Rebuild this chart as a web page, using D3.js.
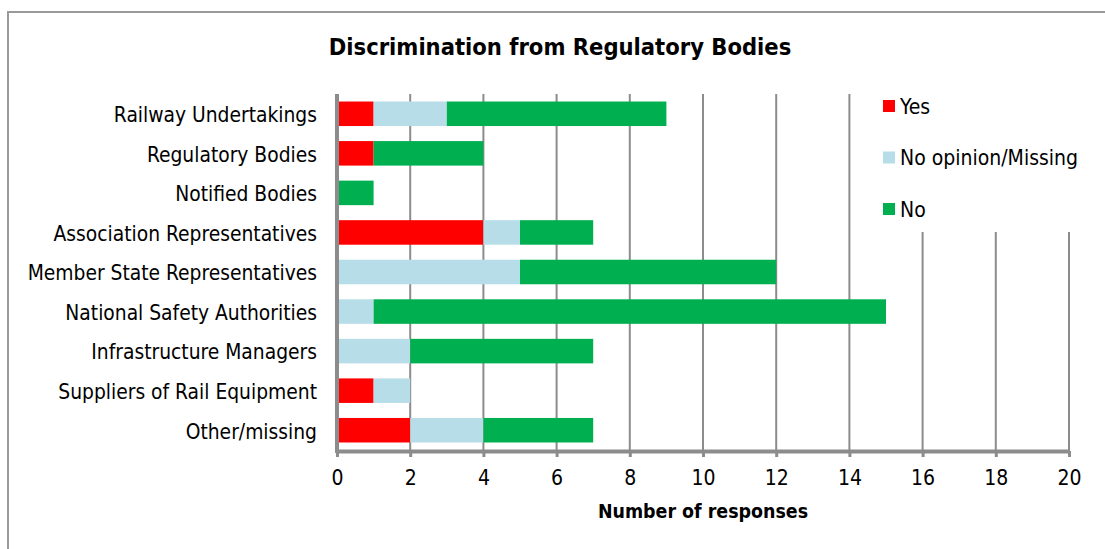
<!DOCTYPE html>
<html>
<head>
<meta charset="utf-8">
<script src="https://cdn.jsdelivr.net/npm/d3@7"></script>
<style>
  body { margin: 0; background: #fff; }
  svg text { font-family: "DejaVu Sans Condensed", "DejaVu Sans", sans-serif; fill: #000; }
</style>
</head>
<body>
<div id="chart"></div>
<script>
// chart data
const categories = [
  "Railway Undertakings",
  "Regulatory Bodies",
  "Notified Bodies",
  "Association Representatives",
  "Member State Representatives",
  "National Safety Authorities",
  "Infrastructure Managers",
  "Suppliers of Rail Equipment",
  "Other/missing"
];
const seriesNames = ["Yes", "No opinion/Missing", "No"];
const yesValues = [1, 1, 0, 4, 0, 0, 0, 1, 2];
const noOpinionValues = [2, 0, 0, 1, 5, 1, 2, 1, 2];
const noValues = [6, 3, 1, 2, 7, 14, 5, 0, 3];
const xTicks = [0, 2, 4, 6, 8, 10, 12, 14, 16, 18, 20];
const colors = ["#FF0000", "#B7DDE8", "#00B050"];

const width = 1105, height = 549;
const plotLeft = 337, plotRight = 1069, plotTop = 94, plotBottom = 451;

const svg = d3.select("#chart").append("svg")
  .attr("width", width)
  .attr("height", height);

// outer chart border
svg.append("rect")
  .attr("x", 8).attr("y", 12)
  .attr("width", 1110).attr("height", 560)
  .attr("fill", "none")
  .attr("stroke", "#9a9a9a")
  .attr("stroke-width", 2);

const x = d3.scaleLinear().domain([0, 20]).range([plotLeft, plotRight]);
const y = d3.scaleBand().domain(categories).range([plotTop, plotBottom - 1]).paddingInner(0.38).paddingOuter(0.19);

// gridlines
svg.append("g").selectAll("line")
  .data(xTicks.slice(1))
  .enter().append("line")
  .attr("x1", d => x(d)).attr("x2", d => x(d))
  .attr("y1", plotTop).attr("y2", plotBottom)
  .attr("stroke", "#8c8c8c")
  .attr("stroke-width", 2);

// stacked bars
const rows = categories.map((c, i) => ({ cat: c, vals: [yesValues[i], noOpinionValues[i], noValues[i]] }));
const stack = d3.stack().keys([0, 1, 2]).value((d, k) => d.vals[k]);
const layers = stack(rows);

svg.append("g").selectAll("g")
  .data(layers)
  .enter().append("g")
  .attr("fill", (d, i) => colors[i])
  .selectAll("rect")
  .data(d => d.filter(s => s[1] > s[0]))
  .enter().append("rect")
  .attr("x", d => x(d[0]))
  .attr("width", d => x(d[1]) - x(d[0]))
  .attr("y", d => y(d.data.cat))
  .attr("height", y.bandwidth());

// x axis
const xAxis = svg.append("g")
  .attr("transform", `translate(0,${plotBottom})`)
  .call(d3.axisBottom(x).tickValues(xTicks).tickSize(6).tickPadding(13).tickSizeOuter(0));
xAxis.select(".domain").attr("stroke", "#8c8c8c").attr("stroke-width", 4);
xAxis.selectAll(".tick line").attr("stroke", "#8c8c8c").attr("stroke-width", 3);
xAxis.selectAll(".tick text")
  .style("font-size", "21px");

// y axis
const yAxis = svg.append("g")
  .attr("transform", `translate(${plotLeft},0)`)
  .call(d3.axisLeft(y).tickSize(0).tickPadding(20));
yAxis.select(".domain").remove();
yAxis.selectAll(".tick text").style("font-size", "20.8px").attr("dy", "0.4em");
svg.append("line")
  .attr("x1", plotLeft).attr("x2", plotLeft)
  .attr("y1", plotTop).attr("y2", plotBottom + 2)
  .attr("stroke", "#8c8c8c")
  .attr("stroke-width", 4);

// title
svg.append("text")
  .attr("x", 560).attr("y", 55)
  .attr("text-anchor", "middle")
  .style("font-size", "23.5px")
  .style("font-weight", "bold")
  .text("Discrimination from Regulatory Bodies");

// axis title
svg.append("text")
  .attr("x", x(10)).attr("y", 518)
  .attr("text-anchor", "middle")
  .style("font-size", "19.4px")
  .style("font-weight", "bold")
  .text("Number of responses");

// legend
const legend = svg.append("g");
legend.append("rect")
  .attr("x", 853).attr("y", 84)
  .attr("width", 245).attr("height", 148)
  .attr("fill", "#fff");
const items = legend.selectAll("g.item")
  .data(seriesNames)
  .enter().append("g")
  .attr("transform", (d, i) => `translate(883,${106 + i * 51.5})`);
items.append("rect")
  .attr("x", 0).attr("y", -6)
  .attr("width", 12).attr("height", 12)
  .attr("fill", (d, i) => colors[i]);
items.append("text")
  .attr("x", 17).attr("y", 0)
  .attr("dy", "0.36em")
  .style("font-size", "21px")
  .text(d => d);
</script>
</body>
</html>
